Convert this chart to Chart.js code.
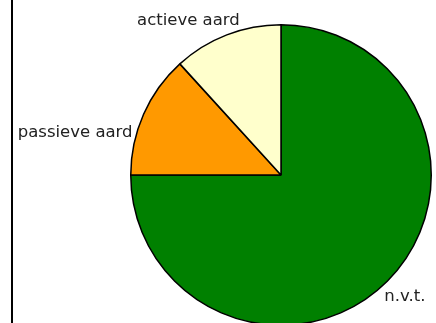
<!DOCTYPE html>
<html>
<head>
<meta charset="utf-8">
<script src="https://cdn.jsdelivr.net/npm/chart.js@4"></script>
<style>
  html, body { margin: 0; padding: 0; background: #fff; overflow: hidden; }
  #wrap { position: relative; width: 436px; height: 340px; }
  #axis { position: absolute; left: 11px; top: 0; width: 0; height: 323px; border-left: 2px solid #000; }
</style>
</head>
<body>
<div id="wrap">
  <canvas id="pie" width="436" height="340"></canvas>
  <div id="axis"></div>
</div>
<script>
const labels = ['n.v.t.', 'passieve aard', 'actieve aard'];
const values = [75, 13.25, 11.75];
const colors = ['#008000', '#FF9900', '#FFFFCC'];

// label-offsets t.o.v. het midden van de boog (alleen opmaak)
const labelOffsets = [
    { dx: -3, dy: 15, align: 'left' },
    { dx: -11, dy: 18, align: 'right' },
    { dx: 13, dy: -14, align: 'right' }
];

const sliceLabels = {
    id: 'sliceLabels',
    afterDatasetsDraw(chart) {
        const ctx = chart.ctx;
        const meta = chart.getDatasetMeta(0);
        ctx.save();
        ctx.font = '16.5px "DejaVu Sans", Verdana, sans-serif';
        ctx.fillStyle = '#222';
        ctx.textBaseline = 'middle';
        meta.data.forEach((arc, i) => {
            const mid = (arc.startAngle + arc.endAngle) / 2;
            const x = arc.x + Math.cos(mid) * arc.outerRadius + labelOffsets[i].dx;
            const y = arc.y + Math.sin(mid) * arc.outerRadius + labelOffsets[i].dy;
            ctx.textAlign = labelOffsets[i].align;
            ctx.fillText(chart.data.labels[i], x, y);
        });
        ctx.restore();
    }
};

new Chart(document.getElementById('pie'), {
    type: 'pie',
    data: {
        labels: labels,
        datasets: [{
            data: values,
            backgroundColor: colors,
            borderColor: '#000',
            borderWidth: 1.5
        }]
    },
    options: {
        responsive: false,
        animation: false,
        layout: { padding: { left: 130, right: 4, top: 24, bottom: 14 } },
        plugins: {
            legend: { display: false },
            tooltip: { enabled: false }
        }
    },
    plugins: [sliceLabels]
});
</script>
</body>
</html>
